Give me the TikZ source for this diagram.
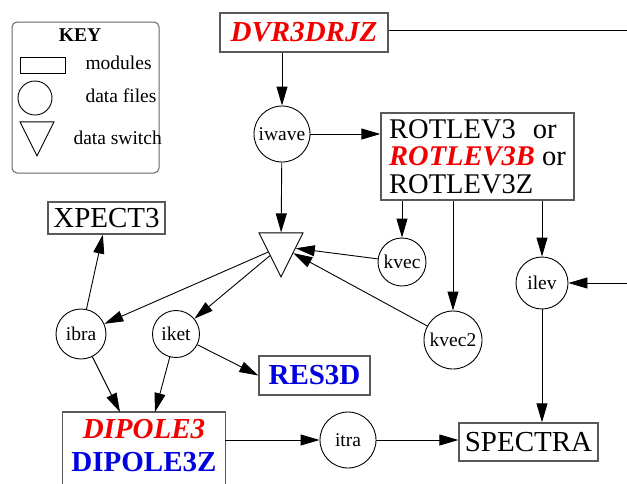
\documentclass[tikz,border=0pt]{standalone}
\usepackage{fontspec}
\setmainfont{Liberation Serif}[BoldFont={Liberation Serif Bold},
    ItalicFont={Liberation Serif Italic}, BoldItalicFont={Liberation Serif Bold Italic}]
\usetikzlibrary{arrows.meta,shapes.geometric}
\definecolor{modred}{RGB}{240,0,0}
\definecolor{modblue}{RGB}{0,0,225}
\newcommand{\bigf}{\fontsize{29}{33}\selectfont}
\newcommand{\smallf}{\fontsize{19.5}{22}\selectfont}

\begin{document}
\begin{tikzpicture}[x=1pt,y=-1pt,
    boxline/.style={draw=black!65, line width=1.3pt},
    module/.style={boxline, inner sep=0pt, font=\bigf},
    datafile/.style={draw, circle, line width=0.9pt, inner sep=0pt, font=\smallf},
    switchnode/.style={draw, isosceles triangle, isosceles triangle stretches,
        shape border rotate=-90, line width=0.9pt, inner sep=0pt,
        minimum width=44pt, minimum height=44pt},
    flow/.style={-{Triangle[length=19pt,width=11pt]}, line width=0.9pt},
    link/.style={line width=0.9pt}]

    \useasboundingbox (0,0) rectangle (627,483);
    \clip (0,0) rectangle (627,483);

    % key
    \node[draw=black!60, line width=1pt, rounded corners=5pt, minimum width=147pt,
        minimum height=151pt] (keybox) at (85.5,97.5) {};
    \node[font=\smallf\bfseries] (keytitle) at (80,35) {KEY};
    \node[draw, line width=1pt, minimum width=45pt, minimum height=16pt] (keymod) at (42.5,65) {};
    \node[font=\smallf, anchor=west] (keymodtxt) at (82,63) {modules};
    \node[datafile, minimum size=34pt] (keyfile) at (35,98) {};
    \node[font=\smallf, anchor=west] (keyfiletxt) at (82,96) {data files};
    \node[switchnode, minimum width=34pt, minimum height=34pt, anchor=apex] (keysw) at (37,157) {};
    \node[font=\smallf, anchor=west] (keyswtxt) at (70,138) {data switch};

    \coordinate (rightedge) at (630,30);
    \coordinate (ilevin) at (630,283);

    \node[module, minimum width=168pt, minimum height=39pt, font=\bigf\bfseries\itshape,
        text=modred] (dvr) at (304,32.5) {DVR3DRJZ};
    \node[datafile, minimum size=56pt] (iwave) at (282,134) {iwave};
    \node[module, minimum width=193pt, minimum height=87pt, align=left,
        font=\fontsize{28.5}{27.5}\selectfont] (rot) at (477.5,156.5)
        {ROTLEV3\hspace{17pt}or\\\textcolor{modred}{\bfseries\itshape ROTLEV3B} or\\ROTLEV3Z};
    \node[switchnode, anchor=apex] (sw) at (281,278) {};
    \node[datafile, minimum size=48pt] (kvec) at (402,262) {kvec};
    \node[datafile, minimum size=58pt] (kvec2) at (453,340) {kvec2};
    \node[datafile, minimum size=52pt] (ilev) at (542,283) {ilev};
    \node[datafile, minimum size=50pt] (ibra) at (81,334) {ibra};
    \node[datafile, minimum size=47pt] (iket) at (176,334) {iket};
    \node[datafile, minimum size=56pt] (itra) at (348,440) {itra};
    \node[module, minimum width=117pt, minimum height=32pt] (xpect) at (106.5,218) {XPECT3};
    \node[module, minimum width=111pt, minimum height=39pt, font=\bigf\bfseries,
        text=modblue] (res) at (314.5,375.5) {RES3D};
    \node[module, minimum width=139pt, minimum height=38pt] (spec) at (528.5,442) {SPECTRA};
    \node[font=\bigf\bfseries, align=center, minimum width=162pt, inner xsep=0pt,
        inner ysep=7pt, anchor=north] (dip) at (144,412)
        {\textcolor{modred}{\itshape DIPOLE3}\\\textcolor{modblue}{DIPOLE3Z}};
    \draw[boxline] (dip.north west) rectangle ([yshift=-30pt]dip.south east);

    \draw[link] (dvr.east |- rightedge) -- (rightedge);
    \draw[flow] (dvr.south -| iwave) -- (iwave);
    \draw[flow] (iwave) -- (iwave -| rot.west);
    \draw[flow] (iwave) -- (sw);
    \draw[flow] (rot.south -| kvec) -- (kvec);
    \draw[flow] (rot.south -| kvec2) -- (kvec2);
    \draw[flow] (rot.south -| ilev) -- (ilev);
    \draw[flow] (ilevin) -- (ilev);
    \draw[flow] (kvec) -- (sw);
    \draw[flow] (kvec2) -- (sw);
    \draw[flow] (sw) -- (ibra);
    \draw[flow] (sw) -- (iket);
    \draw[flow] (ibra) -- (xpect);
    \draw[flow] (ibra) -- ([xshift=-24pt]dip.north);
    \draw[flow] (iket) -- ([xshift=11pt]dip.north);
    \draw[flow] (iket) -- (res.west);
    \draw[flow] (itra -| dip.east) -- (itra);
    \draw[flow] (itra) -- (itra -| spec.west);
    \draw[flow] (ilev) -- (ilev |- spec.north);
\end{tikzpicture}
\end{document}
